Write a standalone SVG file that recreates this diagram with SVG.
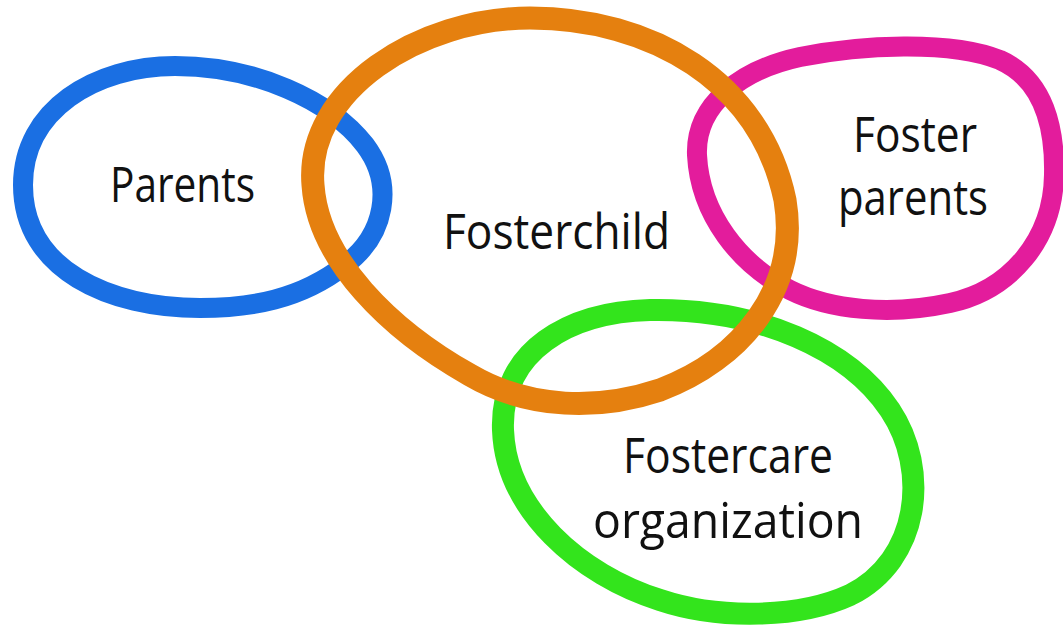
<svg xmlns="http://www.w3.org/2000/svg" width="1063" height="627" viewBox="0 0 1063 627">
<style>
.ring{fill:none;stroke-linejoin:round}
.lbl{font-family:"Open Sans","Noto Sans","Liberation Sans",sans-serif;font-size:50px;fill:#111}
</style>
<rect width="1063" height="627" fill="#ffffff"/>
<g id="connectors"></g>
<g id="parents">
<path class="ring" stroke="#1a6fe3" stroke-width="20" d="M 23,185 C 23,110 95,66 175,66 C 255,66 330,100 365,145 C 395,185 385,235 345,265 C 300,300 250,308 200,308 C 110,308 23,270 23,185 Z"/>
<text class="lbl" x="110" y="202" textLength="145" lengthAdjust="spacingAndGlyphs">Parents</text>
</g>
<g id="foster-parents">
<path class="ring" stroke="#e31c9c" stroke-width="20" d="M 697,155 C 695,105 740,70 800,57 C 860,45 950,40 1000,60 C 1045,80 1055,130 1054,175 C 1053,240 1010,290 950,303 C 890,316 830,310 790,290 C 740,265 700,215 697,155 Z"/>
<text class="lbl" x="853" y="152" textLength="124" lengthAdjust="spacingAndGlyphs">Foster</text>
<text class="lbl" x="838" y="215" textLength="150" lengthAdjust="spacingAndGlyphs">parents</text>
</g>
<g id="fostercare-organization">
<path class="ring" stroke="#33e41c" stroke-width="22" d="M 503,430 C 500,350 570,312 650,310 C 760,308 850,350 890,410 C 930,470 920,560 850,595 C 800,618 720,620 660,600 C 580,575 506,510 503,430 Z"/>
<text class="lbl" x="623" y="473" textLength="210" lengthAdjust="spacingAndGlyphs">Fostercare</text>
<text class="lbl" x="593" y="538" textLength="270" lengthAdjust="spacingAndGlyphs">organization</text>
</g>
<g id="fosterchild">
<path class="ring" stroke="#e5800f" stroke-width="23" d="M 313,185 C 305,90 420,18 530,18 C 650,18 760,80 785,200 C 800,290 740,360 660,390 C 600,410 530,410 470,375 C 390,330 318,260 313,185 Z"/>
<text class="lbl" x="443" y="249" textLength="227" lengthAdjust="spacingAndGlyphs">Fosterchild</text>
</g>
</svg>
